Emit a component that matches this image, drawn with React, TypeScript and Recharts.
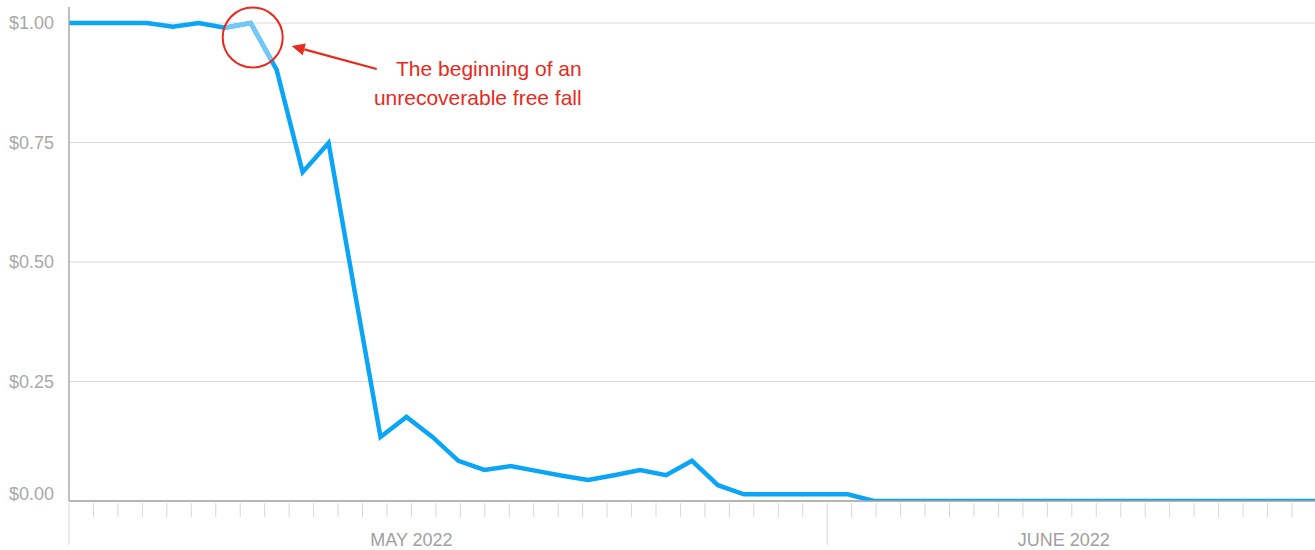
import { CartesianGrid, Line, LineChart, ReferenceDot, XAxis, YAxis } from "recharts";

// closing price per sample
const prices = [
  1.0, 1.0, 1.0, 1.0, 0.992, 1.0, 0.99, 1.0, 0.902, 0.688,
  0.749, 0.44, 0.134, 0.176, 0.134, 0.084, 0.065, 0.073, 0.063, 0.053,
  0.044, 0.054, 0.065, 0.054, 0.084, 0.033, 0.014, 0.014, 0.014, 0.014,
  0.014, 0.0, 0.0, 0.0, 0.0, 0.0, 0.0, 0.0, 0.0, 0.0,
  0.0, 0.0, 0.0, 0.0, 0.0, 0.0, 0.0, 0.0, 0.0,
];
// samples come slightly less than once a day
const samplePeriod = 1.0613;

const priceTicks = [0, 0.25, 0.5, 0.75, 1];

// calendar ruler under the chart (day 0 = May 1)
const dayTicks = Array.from({ length: 51 }, (_, d) => d);
const monthStarts = [0, 31];
const monthLabels = [
  { day: 14, label: "MAY 2022" },
  { day: 40.67, label: "JUNE 2022" },
];

const annotationLines = ["The beginning of an", "unrecoverable free fall"];
const fallStart = 7;

const data = prices.map((price, i) => ({ day: i * samplePeriod, price }));

const FONT = '"Liberation Sans", Arial, Helvetica, sans-serif';
const BLUE = "#0aa5f6";
const LIGHT_BLUE = "#72c9f9";
const RED = "#e8291c";

function YTick({ x, y, payload }: any) {
  return (
    <text
      x={x}
      y={y}
      dy={payload.value === 0 ? -1 : 6.4}
      textAnchor="end"
      fill="#a8a8a8"
      fontSize={18}
      fontFamily={FONT}
    >
      {`$${payload.value.toFixed(2)}`}
    </text>
  );
}

function DayTick({ x, y, payload }: any) {
  const v: number = payload.value;
  const isDay = Number.isInteger(v);
  const long = monthStarts.includes(v);
  const label = monthLabels.find((m) => m.day === v);
  return (
    <g>
      {isDay && (
        <line x1={x} x2={x} y1={y + 2} y2={y + (long ? 44 : 16)} stroke="#d8d8d8" strokeWidth={1} />
      )}
      {label && (
        <text x={x} y={y + 45} textAnchor="middle" fill="#a0a0a0" fontSize={18} fontFamily={FONT}>
          {label.label}
        </text>
      )}
    </g>
  );
}

// red circle, arrow and note pointing at the start of the drop
function FallMarker({ cx, cy }: any) {
  const ox = cx + 2;
  const oy = cy + 14.5;
  const tip = { x: cx + 41, y: cy + 23 };
  const tail = { x: cx + 126, y: cy + 46 };
  const dx = tail.x - tip.x;
  const dy = tail.y - tip.y;
  const len = Math.hypot(dx, dy);
  const ux = dx / len;
  const uy = dy / len;
  const headLen = 13;
  const headHalf = 6;
  const bx = tip.x + ux * headLen;
  const by = tip.y + uy * headLen;
  return (
    <g>
      <defs>
        <clipPath id="fall-clip" clipPathUnits="userSpaceOnUse">
          <circle cx={ox} cy={oy} r={30} />
        </clipPath>
      </defs>
      <circle cx={ox} cy={oy} r={30} fill="none" stroke={RED} strokeWidth={2} />
      <line x1={bx} y1={by} x2={tail.x} y2={tail.y} stroke={RED} strokeWidth={2.2} />
      <polygon
        points={`${tip.x},${tip.y} ${bx - uy * headHalf},${by + ux * headHalf} ${bx + uy * headHalf},${by - ux * headHalf}`}
        fill={RED}
      />
      {annotationLines.map((t, k) => (
        <text
          key={t}
          x={cx + 331}
          y={cy + 53 + k * 29}
          textAnchor="end"
          fill={RED}
          fontSize={21}
          fontFamily={FONT}
        >
          {t}
        </text>
      ))}
    </g>
  );
}

export default function App() {
  return (
    <div style={{ position: "absolute", left: 0, top: 0, background: "#fff" }}>
      <style>{`.fall-highlight .recharts-line-curve { clip-path: url(#fall-clip); }`}</style>
      <LineChart width={1315} height={550} data={data} margin={{ top: 7, right: 0, bottom: 0, left: 0 }}>
        <CartesianGrid horizontal vertical={false} stroke="#dadada" syncWithTicks />
        <XAxis
          dataKey="day"
          type="number"
          domain={[0, "dataMax"]}
          ticks={[...dayTicks, ...monthLabels.map((m) => m.day).filter((d) => !Number.isInteger(d))]}
          interval={0}
          tick={<DayTick />}
          tickLine={false}
          tickSize={0}
          tickMargin={0}
          height={49}
          axisLine={{ stroke: "#a3a3a3", strokeWidth: 1.5 }}
        />
        <YAxis
          type="number"
          domain={[0, 1.0335]}
          allowDataOverflow
          ticks={priceTicks}
          interval={0}
          width={69}
          tickLine={false}
          tickSize={0}
          tickMargin={15}
          tick={<YTick />}
          axisLine={{ stroke: "#a9a9a9", strokeWidth: 1.5 }}
        />
        <Line
          type="linear"
          dataKey="price"
          stroke={BLUE}
          strokeWidth={4.5}
          dot={false}
          activeDot={false}
          isAnimationActive={false}
        />
        <Line
          className="fall-highlight"
          type="linear"
          dataKey="price"
          stroke={LIGHT_BLUE}
          strokeWidth={4.5}
          dot={false}
          activeDot={false}
          isAnimationActive={false}
        />
        <ReferenceDot
          x={fallStart * samplePeriod}
          y={prices[fallStart]}
          r={30}
          shape={<FallMarker />}
        />
      </LineChart>
    </div>
  );
}
